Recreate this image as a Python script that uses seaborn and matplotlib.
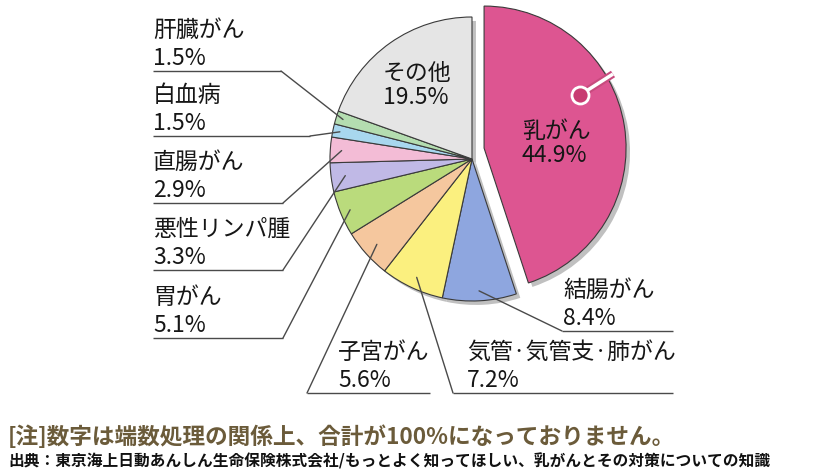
import numpy as np
import matplotlib
matplotlib.use("Agg")
import matplotlib.pyplot as plt
import seaborn as sns

# ---- data ----
labels = ['乳がん', '結腸がん', '気管·気管支·肺がん', '子宮がん', '胃がん',
          '悪性リンパ腫', '直腸がん', '白血病', '肝臓がん', 'その他']
values = [44.9, 8.4, 7.2, 5.6, 5.1, 3.3, 2.9, 1.5, 1.5, 19.5]
pct_text = ['44.9%', '8.4%', '7.2%', '5.6%', '5.1%', '3.3%', '2.9%', '1.5%', '1.5%', '19.5%']
colors = ['#DD5591', '#8EA6DF', '#FBF07F', '#F5C79E', '#BADB7C',
          '#C0B9E6', '#F3BCD6', '#A8D7EE', '#B4DDB0', '#E5E5E5']
note = '[注]数字は端数処理の関係上、合計が100%になっておりません。'
source = '出典：東京海上日動あんしん生命保険株式会社/もっとよく知ってほしい、乳がんとその対策についての知識'

sns.set_theme(style='white')
plt.rcParams['font.family'] = ['Noto Sans CJK JP', 'DejaVu Sans']

W, H = 816, 472
fig = plt.figure(figsize=(W / 100, H / 100), dpi=100)
fig.patch.set_facecolor('white')

# pie axes: centre (472,159), radius 142 px
cx, cy, R = 472, 159, 142
ax = fig.add_axes([(cx - R) / W, (H - cy - R) / H, 2 * R / W, 2 * R / H])
wedges, _ = ax.pie(values, colors=colors, startangle=90, counterclock=False,
                   wedgeprops=dict(edgecolor='#3a3a3a', linewidth=0.8),
                   shadow=dict(ox=0.02, oy=-0.02, facecolor='#b5b5b5',
                               edgecolor='none', alpha=0.85))
# pull the breast-cancer slice out (up and to the right)
pull = (0.085, 0.077)
wedges[0].set_center(pull)
ax.set_xlim(-1, 1)
ax.set_ylim(-1, 1)
ax.set_aspect('equal')
for s in ax.spines.values():
    s.set_visible(False)
ax.patch.set_alpha(0)

# overlay axes in pixel coordinates
ov = fig.add_axes([0, 0, 1, 1], zorder=5)
ov.set_xlim(0, W)
ov.set_ylim(H, 0)
ov.axis('off')
ov.patch.set_alpha(0)

to_px = ax.transData + ov.transData.inverted()

def wedge_point(i, r):
    w = wedges[i]
    th = np.deg2rad((w.theta1 + w.theta2) / 2)
    c = w.center
    return to_px.transform((c[0] + r * np.cos(th), c[1] + r * np.sin(th)))

fs = 16.5
tc = '#161616'
lc = '#4a4a4a'
# external labels: (index, text x, underline y, line x0, line x1, connect side, radius)
ext = [
    (8, 153, 71, 153, 281, 'right', 0.95),
    (7, 153, 136, 153, 310, 'right', 0.95),
    (6, 153, 203, 153, 283, 'right', 0.92),
    (5, 153, 270, 153, 283, 'right', 0.9),
    (4, 153, 338, 153, 283, 'right', 0.93),
    (3, 338, 393, 307, 430, 'left', 0.9),
    (2, 467, 393, 453, 673, 'left', 0.92),
    (1, 563, 331, 562, 673, 'left', 0.93),
]
for i, tx, uy, x0, x1, side, r in ext:
    px, py = wedge_point(i, r)
    ex = x1 if side == 'right' else x0
    ov.plot([x0, x1], [uy, uy], color=lc, lw=1.0, solid_capstyle='butt')
    ov.plot([ex, px], [uy, py], color=lc, lw=1.0)
    ov.text(tx, uy - 34, labels[i], fontsize=fs, color=tc, va='baseline', ha='left')
    ov.text(tx, uy - 6, pct_text[i], fontsize=fs, color=tc, va='baseline', ha='left')

# in-pie labels
ov.text(383, 73, labels[9], fontsize=fs, color=tc, va='center', ha='left')
ov.text(383, 97, pct_text[9], fontsize=fs, color=tc, va='center', ha='left')
ov.text(522, 131, labels[0], fontsize=fs, color=tc, va='center', ha='left')
ov.text(522, 155, pct_text[0], fontsize=fs, color=tc, va='center', ha='left')

# pin marker on breast slice
ov.plot([580, 613], [95, 74], color='#C84A7E', lw=5.5, solid_capstyle='butt', zorder=6)
ov.plot([580, 613], [95, 74], color='white', lw=2.5, solid_capstyle='butt', zorder=6)
ov.scatter([580], [95], s=150, color='#C83C72', edgecolor='white', linewidth=2, zorder=7)

# notes
fig.text(8 / W, 1 - 437 / H, note, fontsize=16.3, fontweight='bold', color='#6B5B3A',
         va='center', ha='left')
fig.text(8 / W, 1 - 461 / H, source, fontsize=11.3, fontweight='bold', color='#111111',
         va='center', ha='left')

fig.savefig('out.png', dpi=100, facecolor='white')
